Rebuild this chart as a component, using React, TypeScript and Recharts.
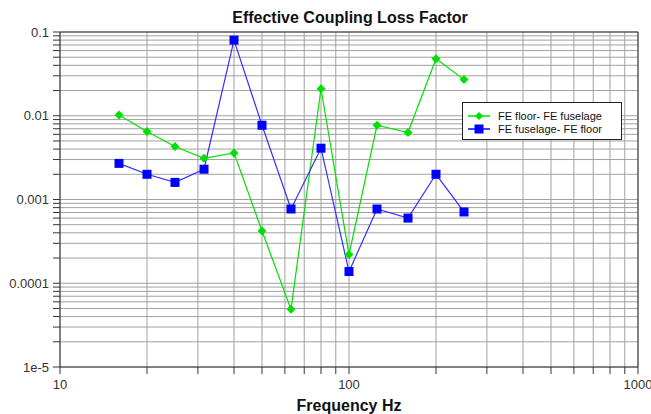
import React from "react";
import {
  LineChart,
  Line,
  XAxis,
  YAxis,
  CartesianGrid,
  ReferenceLine,
} from "recharts";

// Third-octave band centre frequencies (Hz)
const frequencies = [16, 20, 25, 31.5, 40, 50, 63, 80, 100, 125, 160, 200, 250];

// FE floor -> FE fuselage
const floorToFuselage = [
  0.0102, 0.0065, 0.0043, 0.0031, 0.0036, 0.00042, 0.000049, 0.021, 0.00022,
  0.0077, 0.0063, 0.048, 0.027,
];

// FE fuselage -> FE floor
const fuselageToFloor = [
  0.0027, 0.002, 0.0016, 0.0023, 0.08, 0.0077, 0.00077, 0.0041, 0.000138,
  0.00077, 0.0006, 0.002, 0.00071,
];

const xTicks = [
  10, 20, 30, 40, 50, 60, 70, 80, 90, 100, 200, 300, 400, 500, 600, 700, 800,
  900, 1000,
];
const xTickLabels = ["10", "100", "1000"];

const yTicks = [
  0.00001, 0.00002, 0.00003, 0.00004, 0.00005, 0.00006, 0.00007, 0.00008,
  0.00009, 0.0001, 0.0002, 0.0003, 0.0004, 0.0005, 0.0006, 0.0007, 0.0008,
  0.0009, 0.001, 0.002, 0.003, 0.004, 0.005, 0.006, 0.007, 0.008, 0.009, 0.01,
  0.02, 0.03, 0.04, 0.05, 0.06, 0.07, 0.08, 0.09, 0.1,
];
const yMajor = [0.00001, 0.0001, 0.001, 0.01, 0.1];
const yTickLabels = ["1e-5", "0.0001", "0.001", "0.01", "0.1"];

const data = frequencies.map((f, i) => ({
  f,
  floorToFuselage: floorToFuselage[i],
  fuselageToFloor: fuselageToFloor[i],
}));

const GREEN = "#00e000";
const BLUE = "#0000ff";
const FONT = "Arial, 'Liberation Sans', sans-serif";

const formatX = (v: number) => {
  const idx = [10, 100, 1000].indexOf(v);
  return idx >= 0 ? xTickLabels[idx] : "";
};

const formatY = (v: number) => {
  const idx = yMajor.findIndex((m) => Math.abs(v / m - 1) < 1e-6);
  return idx >= 0 ? yTickLabels[idx] : "";
};

// diamond marker for the green series
const Diamond = (props: any) => {
  const { cx, cy } = props;
  if (cx == null || cy == null) return <g key={props.key} />;
  const r = 4.5;
  return (
    <path
      key={props.key}
      d={`M${cx},${cy - r}L${cx + r},${cy}L${cx},${cy + r}L${cx - r},${cy}Z`}
      fill={GREEN}
    />
  );
};

// square marker for the blue series
const Square = (props: any) => {
  const { cx, cy } = props;
  if (cx == null || cy == null) return <g key={props.key} />;
  const s = 9;
  return (
    <rect key={props.key} x={cx - s / 2} y={cy - s / 2} width={s} height={s} fill={BLUE} />
  );
};

const legendItems = [
  { name: "FE floor- FE fuselage", color: GREEN, shape: "diamond" },
  { name: "FE fuselage- FE floor", color: BLUE, shape: "square" },
];

export default function App() {
  return (
    <div
      style={{
        position: "absolute",
        left: 0,
        top: 0,
        width: 651,
        height: 414,
        background: "#fff",
        fontFamily: FONT,
      }}
    >
      <div
        style={{
          position: "absolute",
          left: 0,
          width: 700,
          top: 8,
          textAlign: "center",
          fontSize: 16,
          fontWeight: "bold",
          color: "#111",
          lineHeight: "20px",
        }}
      >
        Effective Coupling Loss Factor
      </div>

      <LineChart
        width={651}
        height={414}
        data={data}
        margin={{ top: 32, right: 13, bottom: 0, left: 10 }}
      >
        <CartesianGrid stroke="#a0a0a0" strokeWidth={1} />
        <XAxis
          dataKey="f"
          type="number"
          scale="log"
          domain={[10, 1000]}
          allowDataOverflow
          ticks={xTicks}
          interval={0}
          tickFormatter={formatX}
          height={47}
          tickSize={7}
          tickMargin={6}
          stroke="#333"
          tick={{ fill: "#333", fontSize: 13, fontFamily: FONT }}
          label={{
            value: "Frequency Hz",
            position: "insideBottom",
            offset: 3,
            fill: "#111",
            fontSize: 16,
            fontWeight: "bold",
            fontFamily: FONT,
          }}
        />
        <YAxis
          type="number"
          scale="log"
          domain={[0.00001, 0.1]}
          allowDataOverflow
          ticks={yTicks}
          interval={0}
          tickFormatter={formatY}
          width={50}
          tickSize={7}
          tickMargin={4}
          stroke="#333"
          tick={{ fill: "#333", fontSize: 13, fontFamily: FONT }}
        />
        <ReferenceLine x={1000} stroke="#333" />
        <ReferenceLine y={0.1} stroke="#333" />
        <Line
          dataKey="floorToFuselage"
          name="FE floor- FE fuselage"
          stroke={GREEN}
          strokeWidth={1.2}
          dot={Diamond}
          activeDot={false}
          isAnimationActive={false}
        />
        <Line
          dataKey="fuselageToFloor"
          name="FE fuselage- FE floor"
          stroke="#3030ff"
          strokeWidth={1.2}
          dot={Square}
          activeDot={false}
          isAnimationActive={false}
        />
      </LineChart>

      <div
        style={{
          position: "absolute",
          left: 462,
          top: 102,
          width: 158,
          height: 36,
          border: "1px solid #222",
          background: "#fff",
          boxSizing: "content-box",
        }}
      >
        {legendItems.map((item, i) => (
          <div
            key={item.name}
            style={{
              position: "absolute",
              left: 5,
              top: 6 + i * 13,
              height: 13,
              display: "flex",
              alignItems: "center",
              fontSize: 11,
              color: "#111",
              whiteSpace: "nowrap",
            }}
          >
            <svg width={22} height={12} style={{ marginRight: 8 }}>
              <line x1={0} y1={6} x2={22} y2={6} stroke={item.color} strokeWidth={1.5} />
              {item.shape === "diamond" ? (
                <path d="M11,2L15,6L11,10L7,6Z" fill={item.color} />
              ) : (
                <rect x={6.5} y={1.5} width={9} height={9} fill={item.color} />
              )}
            </svg>
            {item.name}
          </div>
        ))}
      </div>
    </div>
  );
}
